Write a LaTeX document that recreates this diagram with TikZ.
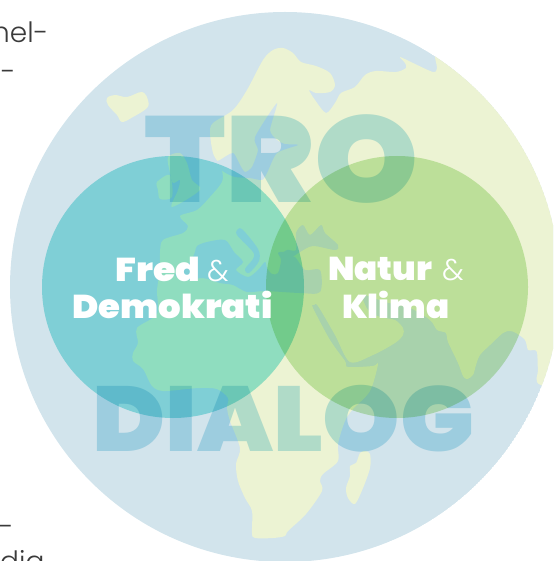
\documentclass[tikz,border=0pt]{standalone}
\usepackage{fontspec}
\setmainfont{Poppins Light}
\newfontfamily\heavyfont{Poppins Black}
\definecolor{oceanblue}{HTML}{D2E4EC}
\definecolor{landgreen}{HTML}{ECF3D3}
\definecolor{tealdisc}{HTML}{9BE8E8}
\definecolor{greendisc}{HTML}{CCEBBA}
\definecolor{wordtint}{HTML}{BFE6F2}
\definecolor{bodytext}{HTML}{3A3A3A}
\tikzset{
  land/.style={fill=landgreen,draw=none},
  sea/.style={fill=oceanblue,draw=none},
  wordmark/.style={text=wordtint,inner sep=0pt,anchor=base west},
  disclabel/.style={text=white,inner sep=0pt,anchor=base west},
  bodyline/.style={text=bodytext,inner sep=0pt,anchor=base west,font=\fontsize{28}{28}\selectfont}
}
\begin{document}
\begin{tikzpicture}[x=1pt,y=-1pt]
\clip (0,0) rectangle (553,561);
\node[bodyline] (nelline) at (-8,43) {nel-};
\node[bodyline] (dashone) at (1,82) {-};
\node[bodyline] (dashtwo) at (-1,536) {-};
\node[bodyline] (dialine) at (0,571) {dia};
\begin{scope}
\clip (285,287) circle (275);
\fill[oceanblue] (285,287) circle (275);
\fill[land] plot[smooth cycle,tension=0.5] coordinates {(273,50) (283,48) (293,53) (301,62) (316,66) (330,73) (335,85) (330,92) (316,93) (309,90) (315,100) (326,113) (335,103) (341,93) (355,87) (365,75) (376,71) (396,72) (406,68) (405,63) (400,57) (413,63) (433,72) (437,68) (435,57) (430,20) (600,20) (600,390) (541,385) (538,370) (537,352) (533,350) (528,350) (525,340) (516,333) (510,331) (503,333) (490,345) (480,355) (476,365) (473,375) (467,379) (463,376) (458,363) (448,342) (446,333) (437,330) (430,320) (410,308) (385,302) (363,295) (368,310) (380,317) (395,320) (403,328) (403,335) (395,343) (373,355) (350,362) (335,335) (318,306) (314,305) (313,308) (330,340) (345,361) (348,367) (373,366) (378,364) (370,391) (353,409) (345,421) (338,444) (338,461) (323,474) (320,481) (322,491) (306,514) (288,531) (285,536) (273,538) (255,538) (252,533) (252,511) (245,498) (238,481) (236,464) (240,448) (230,421) (227,408) (228,398) (217,389) (200,388) (187,389) (163,391) (152,386) (143,369) (133,361) (133,353) (138,343) (137,328) (157,314) (157,290) (160,270) (160,253) (163,240) (183,233) (188,226) (180,216) (197,210) (210,197) (222,182) (222,170) (218,162) (213,153) (210,133) (213,123) (233,110) (247,90) (263,60)};
% islands
\fill[land] plot[smooth cycle,tension=0.6] coordinates {(107,98) (115,95) (127,97) (142,92) (148,100) (147,108) (133,117) (122,122) (117,115) (108,105)};
\fill[land] plot[smooth cycle,tension=0.5] coordinates {(157,182) (170,175) (172,197) (160,199) (158,190)};
\fill[land] plot[smooth cycle,tension=0.5] coordinates {(168,157) (180,153) (187,163) (192,180) (200,190) (172,207) (178,190) (180,180) (173,183) (170,173)};
\fill[land] plot[smooth cycle,tension=0.5] coordinates {(365,451) (370,454) (370,468) (363,488) (355,504) (348,498) (346,488) (350,476) (350,466) (356,463) (360,453)};
% inland seas
\fill[sea] plot[smooth cycle,tension=0.4] coordinates {(277,103) (270,130) (277,140) (285,144) (298,145) (277,153) (267,173) (262,180) (250,178) (235,177) (224,172) (214,163) (220,160) (233,153) (240,165) (245,172) (252,167) (258,150) (255,137)};
\fill[sea] plot[smooth cycle,tension=0.5] coordinates {(175,275) (190,262) (195,252) (197,246) (207,242) (225,240) (234,252) (243,262) (236,270) (248,277) (258,270) (265,262) (267,268) (272,274) (278,273) (281,260) (278,253) (284,252) (287,257) (295,257) (305,270) (320,270) (320,292) (300,293) (265,291) (247,292) (233,285) (220,283) (203,278) (188,280)};
\fill[sea] plot[smooth cycle,tension=0.5] coordinates {(238,229) (243,230) (258,249) (259,261) (249,273) (245,269) (253,259) (253,252) (237,235)};
\fill[sea] plot[smooth cycle,tension=0.5] coordinates {(280,256) (287,250) (296,250) (296,233) (303,225) (310,235) (321,225) (325,233) (338,245) (335,250) (313,246) (300,252) (290,258)};
\end{scope}
\begin{scope}[blend mode=multiply]
\fill[tealdisc] (173,287) circle (131);
\fill[greendisc] (397,287) circle (131);
\node[wordmark] (troword) at (144,202) {\scalebox{1.085}[1]{\heavyfont\fontsize{122}{122}\selectfont TRO}};
\node[wordmark] (dialogword) at (92,451) {\scalebox{1.07}[1]{\heavyfont\fontsize{92}{92}\selectfont DIALOG}};
\end{scope}
\node[disclabel] (fredlabel) at (115,281) {\scalebox{1.1}[1]{\heavyfont\fontsize{33}{33}\selectfont Fred}};
\node[disclabel] (fredamp) at (207,281) {\fontsize{30}{30}\selectfont\&};
\node[disclabel] (demolabel) at (72,318) {\scalebox{1.075}[1]{\heavyfont\fontsize{33}{33}\selectfont Demokrati}};
\node[disclabel] (naturlabel) at (328,280) {\scalebox{1.03}[1]{\heavyfont\fontsize{33}{33}\selectfont Natur}};
\node[disclabel] (naturamp) at (442,280) {\fontsize{30}{30}\selectfont\&};
\node[disclabel] (klimalabel) at (342,318) {\scalebox{1.03}[1]{\heavyfont\fontsize{33}{33}\selectfont Klima}};
\end{tikzpicture}
\end{document}
